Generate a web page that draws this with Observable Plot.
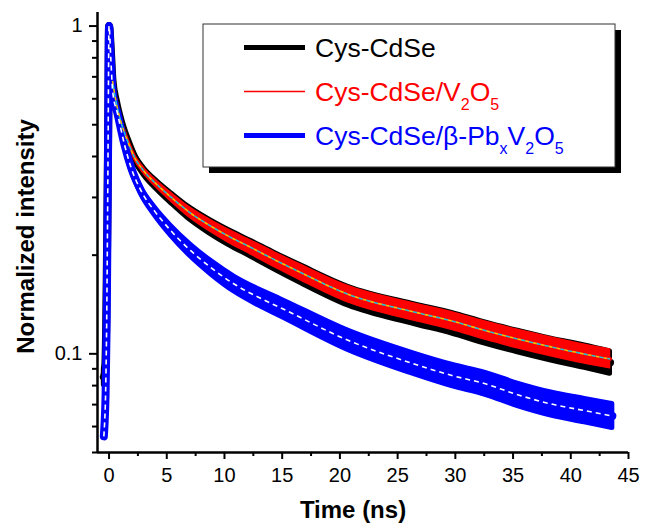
<!DOCTYPE html>
<html><head><meta charset="utf-8">
<script src="https://cdn.jsdelivr.net/npm/d3@7"></script>
<script src="https://cdn.jsdelivr.net/npm/@observablehq/plot@0.6"></script>
<style>body{margin:0;background:#fff}</style>
</head><body><div id="chart"></div>
<script>
// ---- data ----
const seriesColors = ["#000000", "#ff0000", "#0000ff"];

// time axis (ns) for Cys-CdSe and Cys-CdSe/V2O5
const tCd = [-0.45,-0.35,-0.25,-0.15,-0.05,0,0.15,0.3,0.6,1.0,1.6,2.2,3.0,4.2,5.4,6.8,8.5,10.3,12.3,14.3,16.6,20.7,26.5,29.7,32.5,35.4,38.3,41.2,43.4];
// Cys-CdSe (black)
const cdseV = [0.085,0.088,0.12,0.25,0.6,1.0,0.85,0.68,0.59,0.515,0.446,0.397,0.36,0.325,0.298,0.271,0.247,0.227,0.209,0.192,0.175,0.150,0.132,0.124,0.116,0.109,0.103,0.098,0.094];
const cdseSpread = [1.06,1.06,1,1,1,1,1,1,1.01,1.012,1.016,1.02,1.025,1.03,1.036,1.042,1.048,1.053,1.057,1.06,1.064,1.068,1.072,1.075,1.077,1.079,1.08,1.082,1.082];
// Cys-CdSe/V2O5 (red)
const v2o5V = [0.088,0.09,0.12,0.25,0.6,1.0,0.85,0.68,0.59,0.515,0.446,0.398,0.362,0.327,0.300,0.273,0.249,0.229,0.211,0.194,0.177,0.152,0.134,0.126,0.118,0.111,0.105,0.0998,0.0965];
const v2o5Spread = [1,1,1,1,1,1,1,1,1.008,1.01,1.013,1.017,1.021,1.026,1.031,1.036,1.041,1.046,1.05,1.053,1.056,1.059,1.062,1.064,1.066,1.067,1.068,1.068,1.068];

// time axis (ns) for Cys-CdSe/beta-PbxV2O5
const tPb = [-0.45,-0.4,-0.3,-0.2,-0.1,0,0.15,0.32,0.75,1.33,1.91,2.78,3.93,5.38,7.1,8.85,10.87,12.9,14.9,20.7,26.5,29.7,32.6,35.4,38.3,41.2,43.6];
const pbV = [0.056,0.06,0.075,0.13,0.35,1.0,0.8,0.63,0.538,0.436,0.37,0.314,0.273,0.237,0.206,0.183,0.163,0.149,0.138,0.110,0.093,0.0859,0.081,0.075,0.0703,0.0671,0.0646];
const pbSpread = [1,1,1,1,1,1,1,1,1,1.01,1.016,1.022,1.028,1.035,1.042,1.048,1.054,1.058,1.062,1.07,1.075,1.078,1.08,1.082,1.084,1.086,1.088];

const xMajorTicks = [0,5,10,15,20,25,30,35,40,45];
const xMinorTicks = [2.5,7.5,12.5,17.5,22.5,27.5,32.5,37.5,42.5];
const yMajorTicks = [0.1, 1];
const yMinorTicks = [0.05,0.06,0.07,0.08,0.09,0.2,0.3,0.4,0.5,0.6,0.7,0.8,0.9];

// ---- build tables ----
function rows(t, v, s) { return t.map((ti, i) => ({t: ti, v: v[i], lo: v[i] / s[i], hi: v[i] * s[i]})); }
const cdse = rows(tCd, cdseV, cdseSpread);
const v2o5 = rows(tCd, v2o5V, v2o5Spread);
const pb = rows(tPb, pbV, pbSpread);
const v2o5Fit = v2o5.filter(d => d.t >= 0.3);

const font = "'Liberation Sans', Arial, sans-serif";
const lineOpts = {x: "t", y: "v", curve: "monotone-x", strokeLinecap: "round", strokeLinejoin: "round"};
const areaOpts = {x: "t", y1: "lo", y2: "hi", curve: "monotone-x", strokeLinejoin: "round"};

const svg = Plot.plot({
  width: 645, height: 531,
  marginLeft: 97, marginRight: 17, marginTop: 12, marginBottom: 79,
  style: {fontFamily: font, color: "#000", background: "#fff", overflow: "visible"},
  x: {domain: [-1, 45]},
  y: {type: "log", domain: [0.05, 1.1]},
  marks: [
    // black
    Plot.areaY(cdse, {...areaOpts, fill: seriesColors[0], stroke: seriesColors[0], strokeWidth: 5}),
    Plot.line(cdse, {...lineOpts, stroke: seriesColors[0], strokeWidth: 8}),
    // red
    Plot.areaY(v2o5, {...areaOpts, fill: seriesColors[1], stroke: seriesColors[1], strokeWidth: 1.5}),
    Plot.line(v2o5, {...lineOpts, stroke: seriesColors[1], strokeWidth: 4}),
    // blue
    Plot.areaY(pb, {...areaOpts, fill: seriesColors[2], stroke: seriesColors[2], strokeWidth: 5}),
    Plot.line(pb, {...lineOpts, stroke: seriesColors[2], strokeWidth: 8}),
    // fits
    Plot.line(v2o5Fit, {...lineOpts, stroke: "#f2c200", strokeWidth: 1.6, strokeDasharray: "4,4", strokeLinecap: "butt"}),
    Plot.line(v2o5Fit, {...lineOpts, stroke: "#22c4d4", strokeWidth: 1.6, strokeDasharray: "4,4", strokeDashoffset: 4, strokeLinecap: "butt"}),
    Plot.line(pb, {...lineOpts, stroke: "#ffffff", strokeWidth: 1.6, strokeDasharray: "5,4", strokeLinecap: "butt"}),
    // axes
    Plot.axisX({ticks: xMajorTicks, tickSize: 7, tickPadding: 8, strokeWidth: 2, fontSize: 20, label: null}),
    Plot.axisX({ticks: xMinorTicks, tickSize: 4, strokeWidth: 2, tickFormat: () => "", label: null}),
    Plot.axisY({ticks: yMajorTicks, tickSize: 8, tickPadding: 7, strokeWidth: 2, fontSize: 20, tickFormat: d => String(d), label: null}),
    Plot.axisY({ticks: yMinorTicks, tickSize: 5, strokeWidth: 2, tickFormat: () => "", label: null}),
    Plot.ruleX([-1], {stroke: "#000", strokeWidth: 2.5}),
    Plot.ruleY([0.05], {stroke: "#000", strokeWidth: 2.5}),
    Plot.text(["Time (ns)"], {text: d => d, frameAnchor: "bottom", dx: -10, dy: 65, fontSize: 24, fontWeight: "bold", fill: "#000", textAnchor: "middle"}),
    Plot.text(["Normalized intensity"], {text: d => d, frameAnchor: "left", dx: -71, dy: 4, rotate: -90, fontSize: 24, fontWeight: "bold", fill: "#000", textAnchor: "middle", lineAnchor: "middle"})
  ]
});

// ---- legend (box with drop shadow) ----
const g = d3.select(svg).append("g").attr("font-family", font).attr("text-anchor", "start");
g.append("rect").attr("x", 209).attr("y", 30).attr("width", 412).attr("height", 143).attr("fill", "#000");
g.append("rect").attr("x", 203).attr("y", 24).attr("width", 412).attr("height", 143).attr("fill", "#fff").attr("stroke", "#333").attr("stroke-width", 1);
const legendRows = [
  {parts: [["Cys-CdSe", 0]], w: 5},
  {parts: [["Cys-CdSe/V", 0], ["2", 1], ["O", 0], ["5", 1]], w: 1.5},
  {parts: [["Cys-CdSe/β-Pb", 0], ["x", 1], ["V", 0], ["2", 1], ["O", 0], ["5", 1]], w: 5}
];
legendRows.forEach((r, i) => {
  const base = 56.5 + i * 44;
  g.append("line").attr("x1", 244).attr("x2", 305).attr("y1", base - 9).attr("y2", base - 9)
    .attr("stroke", seriesColors[i]).attr("stroke-width", r.w);
  const t = g.append("text").attr("x", 315).attr("y", base).attr("fill", seriesColors[i])
    .attr("font-size", 26.5).attr("text-anchor", "start");
  let sub = false;
  r.parts.forEach(([s, isSub]) => {
    const ts = t.append("tspan").text(s);
    if (isSub && !sub) { ts.attr("dy", 9).attr("font-size", 16); sub = true; }
    else if (isSub && sub) { ts.attr("font-size", 16); }
    else if (!isSub && sub) { ts.attr("dy", -9); sub = false; }
  });
});

document.getElementById("chart").appendChild(svg);
</script>
</body></html>
